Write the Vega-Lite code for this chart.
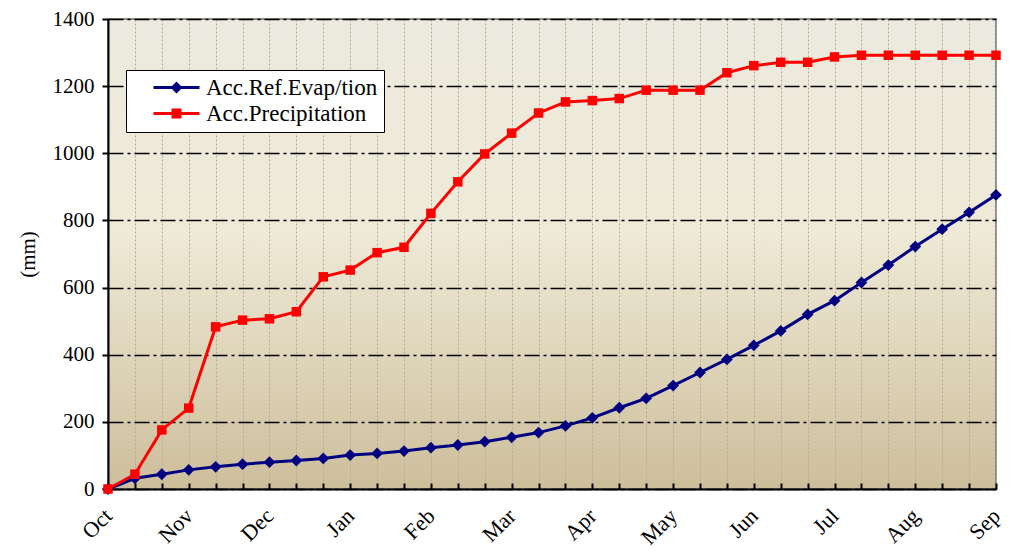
{
  "$schema": "https://vega.github.io/schema/vega-lite/v6.json",
  "width": 888,
  "height": 470,
  "autosize": {"type": "none"},
  "padding": {"left": 108, "top": 19, "right": 20, "bottom": 64},
  "background": "white",
  "config": {
    "font": "Liberation Serif",
    "view": {
      "fill": {"gradient": "linear", "x1": 0, "y1": 0, "x2": 0, "y2": 1,
        "stops": [
          {"offset": 0, "color": "#ECEADF"},
          {"offset": 0.45, "color": "#EFEAD7"},
          {"offset": 1, "color": "#CDBE9B"}
        ]},
      "stroke": "#8c8c8c",
      "strokeWidth": 2
    },
    "axis": {
      "labelFont": "Liberation Serif", "titleFont": "Liberation Serif",
      "labelColor": "black", "titleColor": "black",
      "labelFontSize": 21, "titleFontSize": 21, "titleFontWeight": "normal",
      "domainColor": "black", "domainWidth": 2,
      "tickColor": "black", "tickWidth": 2
    },
    "legend": {
      "orient": "none", "legendX": 18, "legendY": 51,
      "fillColor": "white", "strokeColor": "black",
      "padding": 6, "labelFont": "Liberation Serif", "labelFontSize": 23, "labelColor": "black",
      "labelLimit": 400,
      "symbolSize": 100, "symbolStrokeWidth": 0, "symbolOpacity": 1,
      "symbolOffset": 33, "labelOffset": 18, "rowPadding": 2
    }
  },
  "resolve": {"legend": {"color": "independent", "shape": "independent"}},
  "data": {"values": [
    {"i": 0, "eto": 0, "pcp": 0},
    {"i": 1, "eto": 32, "pcp": 44},
    {"i": 2, "eto": 44, "pcp": 176},
    {"i": 3, "eto": 57, "pcp": 241},
    {"i": 4, "eto": 66, "pcp": 483},
    {"i": 5, "eto": 74, "pcp": 503},
    {"i": 6, "eto": 80, "pcp": 507},
    {"i": 7, "eto": 85, "pcp": 528},
    {"i": 8, "eto": 91, "pcp": 632},
    {"i": 9, "eto": 101, "pcp": 652},
    {"i": 10, "eto": 106, "pcp": 704},
    {"i": 11, "eto": 113, "pcp": 720},
    {"i": 12, "eto": 123, "pcp": 821},
    {"i": 13, "eto": 131, "pcp": 915},
    {"i": 14, "eto": 141, "pcp": 998},
    {"i": 15, "eto": 154, "pcp": 1060},
    {"i": 16, "eto": 168, "pcp": 1120},
    {"i": 17, "eto": 188, "pcp": 1153},
    {"i": 18, "eto": 212, "pcp": 1157},
    {"i": 19, "eto": 242, "pcp": 1163},
    {"i": 20, "eto": 270, "pcp": 1188},
    {"i": 21, "eto": 308, "pcp": 1188},
    {"i": 22, "eto": 347, "pcp": 1188},
    {"i": 23, "eto": 386, "pcp": 1240},
    {"i": 24, "eto": 428, "pcp": 1261},
    {"i": 25, "eto": 471, "pcp": 1271},
    {"i": 26, "eto": 520, "pcp": 1271},
    {"i": 27, "eto": 561, "pcp": 1287},
    {"i": 28, "eto": 615, "pcp": 1292},
    {"i": 29, "eto": 667, "pcp": 1292},
    {"i": 30, "eto": 722, "pcp": 1292},
    {"i": 31, "eto": 774, "pcp": 1292},
    {"i": 32, "eto": 824, "pcp": 1292},
    {"i": 33, "eto": 876, "pcp": 1292}
  ]},
  "transform": [{"fold": ["eto", "pcp"], "as": ["key", "value"]}],
  "encoding": {
    "x": {
      "field": "i", "type": "quantitative",
      "scale": {"domain": [0, 33], "nice": false, "zero": false},
      "axis": {
        "title": null,
        "values": [0,1,2,3,4,5,6,7,8,9,10,11,12,13,14,15,16,17,18,19,20,21,22,23,24,25,26,27,28,29,30,31,32,33],
        "labelExpr": "datum.value % 3 === 0 ? ['Oct','Nov','Dec','Jan','Feb','Mar','Apr','May','Jun','Jul','Aug','Sep'][datum.value / 3] : ''",
        "labelAngle": -45, "labelAlign": "right", "labelBaseline": "middle",
        "labelPadding": 29, "labelOverlap": false, "labelFlush": false, "labelBound": false,
        "labelFontSize": 22,
        "tickSize": -6,
        "grid": true, "gridColor": "#b3aa98", "gridDash": [2, 2], "gridWidth": 1
      }
    },
    "y": {
      "field": "value", "type": "quantitative",
      "scale": {"domain": [0, 1400], "nice": false},
      "axis": {
        "title": "(mm)", "format": "d",
        "values": [0, 200, 400, 600, 800, 1000, 1200, 1400],
        "tickSize": 6, "labelPadding": 8, "titlePadding": 14,
        "grid": true, "gridColor": "black", "gridDash": [15, 4, 3, 4], "gridWidth": 1.5
      }
    }
  },
  "layer": [
    {
      "mark": {"type": "line", "strokeWidth": 3},
      "encoding": {
        "color": {
          "field": "key", "type": "nominal",
          "scale": {"domain": ["eto", "pcp"], "range": ["#000080", "#ff0000"]},
          "legend": null
        }
      }
    },
    {
      "transform": [{"filter": "datum.key === 'eto'"}],
      "mark": {"type": "point", "shape": "diamond", "filled": true, "opacity": 1, "size": 140, "color": "#000080"}
    },
    {
      "transform": [{"filter": "datum.key === 'pcp'"}],
      "mark": {"type": "point", "shape": "square", "filled": true, "opacity": 1, "size": 90, "color": "#ff0000"}
    },
    {
      "mark": {"type": "point", "filled": true, "opacity": 0},
      "encoding": {
        "color": {
          "field": "key", "type": "nominal",
          "scale": {"domain": ["eto", "pcp"], "range": ["#000080", "#ff0000"]},
          "legend": {
            "title": null,
            "labelExpr": "datum.value === 'eto' ? 'Acc.Ref.Evap/tion\u00a0\u00a0\u00a0\u00a0\u00a0\u00a0\u00a0\u00a0\u00a0' : 'Acc.Precipitation'"
          }
        },
        "shape": {
          "field": "key", "type": "nominal",
          "scale": {"domain": ["eto", "pcp"], "range": [
            "M-4.6,-0.3L4.6,-0.3L4.6,0.3L-4.6,0.3ZM0,-1.2L1.2,0L0,1.2L-1.2,0Z",
            "M-4.6,-0.3L4.6,-0.3L4.6,0.3L-4.6,0.3ZM-1,-1L1,-1L1,1L-1,1Z"
          ]},
          "legend": {
            "title": null,
            "labelExpr": "datum.value === 'eto' ? 'Acc.Ref.Evap/tion\u00a0\u00a0\u00a0\u00a0\u00a0\u00a0\u00a0\u00a0\u00a0' : 'Acc.Precipitation'"
          }
        }
      }
    }
  ]
}
